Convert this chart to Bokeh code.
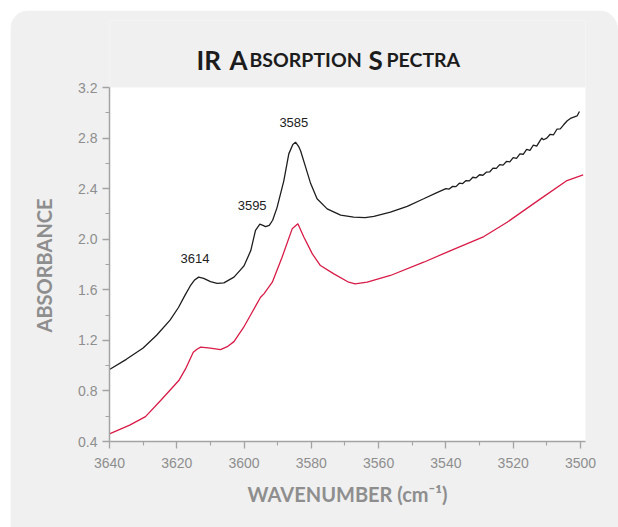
from bokeh.plotting import figure
from bokeh.models import Range1d, FixedTicker, BoxAnnotation, Title
from bokeh.core.properties import value
from bokeh.embed import file_html
from bokeh.resources import INLINE

# ---- data ----
black_wn = [3640, 3635, 3630, 3626, 3622, 3619.5, 3617.5, 3616, 3614.8, 3613.5, 3612, 3610,
            3608, 3606, 3603, 3601, 3600, 3598, 3596.6, 3595.3, 3594.4, 3593.6, 3592.5, 3591.5,
            3590.2, 3588.2, 3586.7, 3585.5, 3584.7, 3583.7, 3583.2, 3581.7, 3580.2, 3578.3,
            3575.3, 3571.3, 3567.4, 3564, 3561.4, 3556.5, 3551.5, 3546.6, 3543,
            3540, 3539, 3538, 3537, 3536, 3535, 3534, 3533, 3532, 3531, 3530, 3529, 3528,
            3527, 3526, 3525, 3524, 3523, 3522, 3521, 3520, 3519, 3518, 3517, 3516, 3515,
            3514, 3513, 3512, 3511.5, 3511, 3510, 3509, 3508, 3507, 3506, 3505, 3504, 3503,
            3502, 3501, 3500.3]
black_abs = [0.97, 1.05, 1.14, 1.24, 1.36, 1.46, 1.56, 1.63, 1.675, 1.70, 1.69, 1.665,
             1.65, 1.655, 1.70, 1.76, 1.79, 1.91, 2.07, 2.12, 2.11, 2.10, 2.11, 2.15,
             2.25, 2.46, 2.675, 2.75, 2.767, 2.73, 2.70, 2.57, 2.44, 2.32,
             2.24, 2.19, 2.175, 2.17, 2.18, 2.214, 2.26, 2.32, 2.365,
             2.40, 2.397, 2.418, 2.416, 2.443, 2.44, 2.464, 2.461, 2.49, 2.486, 2.51, 2.506, 2.53,
             2.532, 2.562, 2.56, 2.59, 2.586, 2.615, 2.611, 2.645, 2.64, 2.675, 2.672, 2.71, 2.702,
             2.745, 2.737, 2.78, 2.80, 2.787, 2.80, 2.83, 2.826, 2.87, 2.873, 2.905, 2.935, 2.955,
             2.965, 2.975, 3.01]

red_wn = [3640, 3634, 3629.3, 3624.8, 3619.4, 3617.4, 3615.1, 3614, 3612.9, 3610, 3607, 3605,
          3603, 3600.1, 3597.6, 3595.1, 3594.1, 3591.6, 3588.7, 3585.7, 3584, 3582.2, 3579.7,
          3577.3, 3573.3, 3568.9, 3567, 3563.4, 3556.5, 3546.6, 3538.6, 3528.7, 3521.8,
          3511.9, 3504, 3499.2]
red_abs = [0.46, 0.53, 0.597, 0.724, 0.882, 0.974, 1.106, 1.13, 1.146, 1.138, 1.127, 1.15,
           1.19, 1.304, 1.422, 1.541, 1.568, 1.66, 1.857, 2.082, 2.122, 2.016, 1.884,
           1.792, 1.726, 1.66, 1.647, 1.66, 1.713, 1.818, 1.91, 2.021, 2.134,
           2.319, 2.464, 2.509]

peak_labels = ["3614", "3595", "3585"]
peak_wn = [3614.6, 3597.6, 3585.2]
peak_abs = [1.85, 2.27, 2.92]

x_ticks = [3640, 3620, 3600, 3580, 3560, 3540, 3520, 3500]
y_ticks = [0.4, 0.8, 1.2, 1.6, 2.0, 2.4, 2.8, 3.2]

# small-caps title, built from pieces
title_pieces = ["IR", "A", "BSORPTION", "S", "PECTRA"]
title_sizes = ["26px", "26px", "19.5px", "26px", "19.5px"]
title_offsets = [3, 36, 56, 175, 193]          # px from start of title

GRAY_TXT = "#8e8e8e"
AXIS_COL = "#a3a3a3"
PANEL = "#f0f0f0"

# ---- layout (pixels, relative to the figure) ----
W, H = 608, 517
LEFT, RIGHT, TOP, BOTTOM = 99, 33, 10, 86
Y_TOP_PX = 77                     # where 3.2 sits
X0, X1 = 3640, 3498.5
Y0, Y1 = 0.4, 3.2
frame_h = H - TOP - BOTTOM
ppu_y = (frame_h - (Y_TOP_PX - TOP)) / (Y1 - Y0)
y_end = Y1 + (Y_TOP_PX - TOP) / ppu_y
ppu_x = (W - LEFT - RIGHT) / (X0 - X1)

p = figure(width=W, height=H, output_backend="svg", toolbar_location=None,
           x_range=Range1d(X0, X1), y_range=Range1d(Y0, y_end),
           min_border_left=LEFT, min_border_right=RIGHT,
           min_border_top=TOP, min_border_bottom=BOTTOM)
p.styles = {"margin-left": "10px", "margin-top": "10px",
            "border-radius": "20px 20px 0 0", "overflow": "hidden"}
p.border_fill_color = PANEL
p.background_fill_color = PANEL
p.outline_line_color = None
p.grid.visible = False

p.add_layout(BoxAnnotation(left=X0, right=X1, bottom=Y0, top=Y1, fill_color="white",
                           fill_alpha=1.0, line_color=None, level="underlay"))

p.line(black_wn, black_abs, line_color="#1e1e1e", line_width=1.3)
p.line(red_wn, red_abs, line_color="#d81b47", line_width=1.3)

p.text(x=peak_wn, y=peak_abs, text=peak_labels, text_font=value("Liberation Sans"),
       text_font_size="13px", text_align="center", text_baseline="middle",
       text_color="#222222")

# title: starts at page x 193, baseline at page y 59 (figure origin at 10,10)
title_x = X0 - (193 - 10 - LEFT) / ppu_x
title_y = Y1 + (Y_TOP_PX - (59 - 10)) / ppu_y
n = len(title_pieces)
p.text(x=[title_x] * n, y=[title_y] * n, text=title_pieces, x_offset=title_offsets,
       text_font=value("Lato"), text_font_style="bold", text_font_size=title_sizes,
       text_color="#1c1c1c", text_align="left", text_baseline="alphabetic")

x_minor = [(a + b) / 2 for a, b in zip(x_ticks[:-1], x_ticks[1:])]
y_minor = [round((a + b) / 2, 2) for a, b in zip(y_ticks[:-1], y_ticks[1:])]
p.xaxis.ticker = FixedTicker(ticks=x_ticks, minor_ticks=x_minor)
p.yaxis.ticker = FixedTicker(ticks=y_ticks, minor_ticks=y_minor)
p.yaxis.major_label_overrides = {tk: f"{tk:.1f}" for tk in y_ticks}
p.yaxis.bounds = (Y0, Y1)

for ax in (p.xaxis[0], p.yaxis[0]):
    ax.axis_line_color = AXIS_COL
    ax.axis_line_width = 1.5
    ax.major_tick_line_color = AXIS_COL
    ax.minor_tick_line_color = AXIS_COL
    ax.major_tick_line_width = 1.3
    ax.minor_tick_line_width = 1.1
    ax.major_tick_in = 0
    ax.major_tick_out = 7
    ax.minor_tick_in = 0
    ax.minor_tick_out = 4
    ax.major_label_text_font = "Liberation Sans"
    ax.major_label_text_font_size = "14px"
    ax.major_label_text_color = GRAY_TXT
    ax.axis_label_text_font = "Lato"
    ax.axis_label_text_font_style = "bold"
    ax.axis_label_text_font_size = "20px"
    ax.axis_label_text_color = GRAY_TXT

p.yaxis.major_label_standoff = 5
p.xaxis.major_label_standoff = 9
p.xaxis.axis_label = "WAVENUMBER (cm\u207b\u00b9)"
p.xaxis.axis_label_standoff = 11

# y-axis title: starts 109 px above the x axis (page y 332), reads upward
p.add_layout(Title(text="ABSORBANCE", align="left", offset=109, standoff=39,
                   text_font="Lato", text_font_style="bold", text_font_size="20px",
                   text_color=GRAY_TXT), "left")

open("out.html", "w").write(file_html(p, INLINE))
